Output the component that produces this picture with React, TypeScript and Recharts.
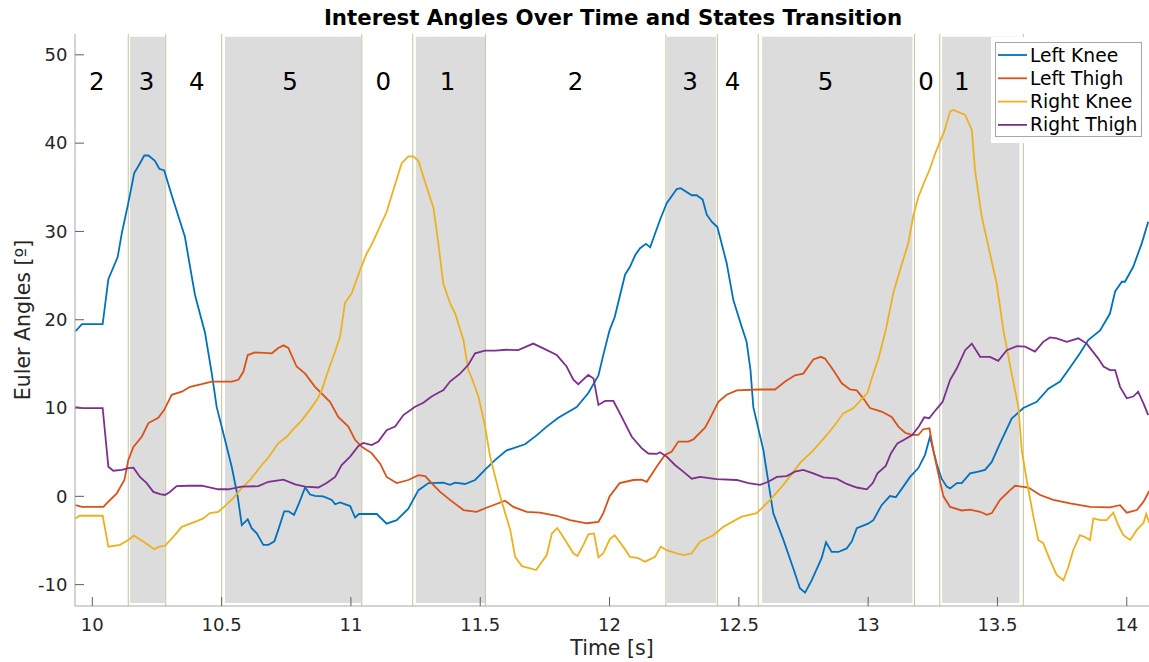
import React from 'react';
import { LineChart, Line, XAxis, YAxis, ReferenceArea, ReferenceLine, ReferenceDot } from 'recharts';

type Pt = [number, number];

// time [s], angle [deg]
const leftKnee: Pt[] = [
  [9.935, 18.7], [9.96, 19.5], [10.04, 19.5], [10.062, 24.6], [10.098, 27.1], [10.114, 29.8],
  [10.139, 33.2], [10.162, 36.6], [10.18, 37.5], [10.201, 38.6], [10.217, 38.6], [10.242, 38.0],
  [10.259, 37.1], [10.278, 36.9], [10.307, 34.1], [10.358, 29.4], [10.382, 25.3], [10.397, 22.8],
  [10.436, 18.5], [10.462, 13.9], [10.481, 10.1], [10.5, 7.9], [10.539, 3.35], [10.562, 0],
  [10.578, -3.25], [10.601, -2.6], [10.616, -3.6], [10.636, -4.2], [10.661, -5.5], [10.681, -5.5],
  [10.704, -5.1], [10.719, -3.8], [10.742, -1.7], [10.758, -1.7], [10.78, -2.1], [10.799, -0.8],
  [10.823, 1.0], [10.842, 0.2], [10.861, 0.05], [10.893, 0], [10.926, -0.4], [10.939, -0.9],
  [10.958, -0.7], [10.997, -1.1], [11.016, -2.4], [11.031, -2.0], [11.1, -2.0], [11.138, -3.1],
  [11.177, -2.7], [11.222, -1.4], [11.261, 0.7], [11.3, 1.5], [11.357, 1.55], [11.383, 1.3],
  [11.403, 1.55], [11.441, 1.4], [11.48, 1.85], [11.518, 3.0], [11.557, 4.1], [11.602, 5.2],
  [11.673, 5.9], [11.718, 6.9], [11.757, 7.9], [11.802, 8.9], [11.873, 10.1], [11.918, 11.7],
  [11.957, 13.7], [11.98, 16.5], [12.0, 18.8], [12.02, 20.3], [12.06, 25.1], [12.079, 26.0],
  [12.099, 27.3], [12.118, 28.1], [12.141, 28.6], [12.157, 28.2], [12.195, 31.3], [12.221, 33.2],
  [12.26, 34.8], [12.275, 34.9], [12.318, 34.1], [12.337, 34.1], [12.36, 33.6], [12.376, 31.9],
  [12.395, 31.1], [12.417, 30.5], [12.453, 26.4], [12.479, 22.2], [12.511, 19.2], [12.53, 17.5],
  [12.545, 14.3], [12.556, 10.1], [12.595, 5.2], [12.633, -1.9], [12.672, -4.9], [12.711, -8.2],
  [12.736, -10.4], [12.756, -10.9], [12.782, -9.5], [12.82, -7.0], [12.837, -5.2], [12.859, -6.3],
  [12.885, -6.3], [12.917, -5.9], [12.937, -5.1], [12.956, -3.6], [13.0, -3.1], [13.02, -2.7],
  [13.052, -1.0], [13.084, 0.03], [13.107, -0.1], [13.136, 1.1], [13.162, 2.2], [13.194, 3.2],
  [13.22, 4.7], [13.239, 6.75], [13.265, 3.7], [13.284, 2.0], [13.304, 1.1], [13.317, 0.9],
  [13.343, 1.5], [13.362, 1.5], [13.394, 2.6], [13.426, 2.8], [13.452, 3.0], [13.478, 3.9],
  [13.51, 6.0], [13.555, 8.8], [13.6, 10.0], [13.652, 10.7], [13.697, 12.2], [13.742, 13.0],
  [13.774, 14.3], [13.819, 16.2], [13.851, 17.7], [13.897, 18.8], [13.935, 20.7], [13.955, 23.2],
  [13.981, 24.3], [13.993, 24.3], [14.025, 26.0], [14.058, 28.65], [14.083, 31.1],
];

const leftThigh: Pt[] = [
  [9.935, -1.0], [9.96, -1.2], [10.043, -1.2], [10.062, -0.6], [10.094, 0.3], [10.124, 1.85],
  [10.139, 4.1], [10.159, 5.6], [10.191, 6.75], [10.217, 8.3], [10.255, 8.9], [10.278, 9.8],
  [10.307, 11.5], [10.346, 11.85], [10.378, 12.4], [10.423, 12.7], [10.462, 13.0], [10.539, 13.0],
  [10.565, 13.2], [10.584, 14.1], [10.601, 16.0], [10.629, 16.3], [10.694, 16.2], [10.719, 16.8],
  [10.739, 17.1], [10.758, 16.8], [10.79, 14.7], [10.823, 13.9], [10.861, 12.4], [10.919, 10.7],
  [10.951, 9.0], [10.99, 7.9], [11.016, 6.4], [11.042, 5.6], [11.08, 4.9], [11.113, 3.7],
  [11.138, 2.2], [11.177, 1.5], [11.222, 1.85], [11.261, 2.4], [11.287, 2.3], [11.325, 1.1],
  [11.345, 0.5], [11.383, -0.4], [11.435, -1.55], [11.486, -1.75], [11.519, -1.35], [11.596, -0.5],
  [11.628, -1.2], [11.68, -1.75], [11.731, -1.85], [11.796, -2.2], [11.847, -2.7], [11.912, -3.05],
  [11.957, -2.9], [11.976, -1.9], [12.0, 0], [12.039, 1.5], [12.092, 1.85], [12.124, 1.9],
  [12.144, 1.65], [12.182, 3.35], [12.215, 4.7], [12.24, 5.05], [12.266, 6.2], [12.305, 6.2],
  [12.324, 6.45], [12.37, 7.8], [12.395, 9.2], [12.421, 10.7], [12.453, 11.5], [12.492, 12.0],
  [12.575, 12.1], [12.64, 12.1], [12.679, 13.0], [12.717, 13.7], [12.749, 13.9], [12.788, 15.5],
  [12.817, 15.8], [12.833, 15.6], [12.865, 14.3], [12.898, 12.8], [12.93, 12.1], [12.956, 12.0],
  [12.981, 11.1], [13.007, 10.0], [13.052, 9.6], [13.091, 9.0], [13.117, 7.9], [13.143, 7.2],
  [13.168, 6.95], [13.194, 6.95], [13.213, 7.6], [13.237, 7.7], [13.252, 5.2], [13.271, 2.6],
  [13.291, 0], [13.317, -1.2], [13.362, -1.6], [13.394, -1.5], [13.433, -1.75], [13.459, -2.1],
  [13.478, -1.9], [13.51, -0.4], [13.549, 0.7], [13.568, 1.2], [13.62, 1.0], [13.665, 0.15],
  [13.716, -0.4], [13.781, -0.8], [13.858, -1.2], [13.935, -1.25], [13.974, -1.0], [14.0, -1.85],
  [14.039, -1.55], [14.065, -0.6], [14.087, 0.6],
];

const rightKnee: Pt[] = [
  [9.935, -2.5], [9.95, -2.2], [10.04, -2.2], [10.062, -5.7], [10.107, -5.5], [10.139, -4.95],
  [10.161, -4.45], [10.204, -5.25], [10.239, -6.0], [10.259, -5.7], [10.281, -5.6], [10.313, -4.6],
  [10.346, -3.45], [10.404, -2.8], [10.429, -2.5], [10.455, -1.9], [10.487, -1.75], [10.507, -1.25],
  [10.545, -0.2], [10.571, 0.7], [10.61, 1.85], [10.655, 3.55], [10.681, 4.4], [10.719, 6.0],
  [10.752, 6.75], [10.777, 7.6], [10.81, 8.6], [10.842, 9.85], [10.868, 10.9], [10.887, 12.0],
  [10.913, 14.3], [10.939, 16.4], [10.958, 18.1], [10.977, 21.9], [11.003, 23.0], [11.035, 25.6],
  [11.061, 27.5], [11.08, 28.5], [11.138, 32.2], [11.164, 34.7], [11.196, 37.7], [11.222, 38.5],
  [11.241, 38.5], [11.261, 38.0], [11.28, 36.2], [11.319, 32.7], [11.338, 28.65], [11.357, 24.1],
  [11.383, 21.9], [11.403, 20.7], [11.435, 17.7], [11.454, 14.3], [11.467, 13.4], [11.493, 11.3],
  [11.519, 7.9], [11.538, 4.5], [11.577, 0], [11.616, -3.8], [11.635, -6.85], [11.661, -7.9],
  [11.693, -8.15], [11.716, -8.35], [11.757, -6.65], [11.777, -4.2], [11.798, -3.6], [11.821, -4.6],
  [11.86, -6.45], [11.876, -6.75], [11.899, -5.5], [11.918, -4.3], [11.94, -4.2], [11.957, -6.9],
  [11.976, -6.45], [12.001, -4.85], [12.02, -4.4], [12.053, -5.7], [12.079, -6.85], [12.111, -7.0],
  [12.137, -7.4], [12.176, -6.85], [12.198, -5.7], [12.221, -6.1], [12.26, -6.45], [12.286, -6.65],
  [12.318, -6.45], [12.35, -5.15], [12.401, -4.4], [12.44, -3.45], [12.511, -2.3], [12.569, -1.9],
  [12.621, -0.4], [12.672, 1.3], [12.717, 3.0], [12.736, 3.75], [12.788, 5.2], [12.84, 6.95],
  [12.872, 8.1], [12.904, 9.4], [12.943, 10.0], [12.997, 11.7], [13.02, 13.9], [13.04, 15.6],
  [13.068, 18.8], [13.097, 23.0], [13.123, 25.6], [13.155, 28.65], [13.174, 31.7], [13.194, 33.9],
  [13.22, 35.8], [13.239, 37.1], [13.259, 38.8], [13.278, 40.2], [13.294, 41.3], [13.317, 43.6],
  [13.33, 43.75], [13.375, 43.2], [13.401, 41.5], [13.413, 37.0], [13.439, 31.7], [13.471, 27.5],
  [13.497, 24.1], [13.523, 18.8], [13.555, 13.9], [13.581, 10.1], [13.594, 5.2], [13.613, 1.85],
  [13.639, -2.3], [13.658, -4.95], [13.677, -5.3], [13.703, -7.2], [13.729, -8.9], [13.755, -9.5],
  [13.774, -8.0], [13.793, -6.1], [13.819, -4.4], [13.838, -4.6], [13.858, -4.95], [13.871, -2.5],
  [13.897, -2.7], [13.922, -2.7], [13.948, -1.85], [13.967, -3.25], [13.987, -4.4], [14.013, -4.95],
  [14.039, -3.8], [14.065, -3.0], [14.075, -2.0], [14.087, -3.0],
];

const rightThigh: Pt[] = [
  [9.935, 10.1], [9.96, 10.0], [10.04, 10.0], [10.062, 3.35], [10.081, 2.9], [10.114, 3.0],
  [10.139, 3.2], [10.159, 3.25], [10.184, 2.2], [10.21, 1.5], [10.236, 0.5], [10.262, 0.25],
  [10.281, 0.15], [10.3, 0.5], [10.326, 1.15], [10.371, 1.2], [10.423, 1.2], [10.487, 0.8],
  [10.526, 0.8], [10.578, 1.1], [10.642, 1.15], [10.681, 1.65], [10.739, 1.9], [10.784, 1.35],
  [10.823, 1.1], [10.874, 1.0], [10.906, 1.5], [10.939, 2.2], [10.964, 3.55], [10.997, 4.5],
  [11.029, 5.7], [11.048, 6.05], [11.08, 5.8], [11.106, 6.2], [11.138, 7.5], [11.171, 7.9],
  [11.203, 9.2], [11.248, 10.15], [11.28, 10.6], [11.312, 11.3], [11.345, 11.85], [11.357, 12.0],
  [11.383, 13.0], [11.422, 13.9], [11.454, 14.9], [11.48, 16.2], [11.518, 16.5], [11.557, 16.5],
  [11.602, 16.6], [11.647, 16.55], [11.705, 17.3], [11.744, 16.75], [11.796, 16.0], [11.834, 14.7],
  [11.86, 13.2], [11.879, 12.7], [11.918, 13.75], [11.938, 13.35], [11.957, 10.35], [11.983, 10.8],
  [12.015, 10.8], [12.047, 9.0], [12.086, 6.75], [12.124, 5.45], [12.15, 4.85], [12.182, 4.8],
  [12.195, 5.0], [12.221, 4.5], [12.253, 3.55], [12.285, 2.8], [12.318, 2.0], [12.35, 2.2],
  [12.414, 1.95], [12.492, 1.85], [12.537, 1.5], [12.582, 1.3], [12.614, 1.65], [12.647, 2.2],
  [12.685, 2.3], [12.717, 2.8], [12.749, 3.0], [12.788, 2.6], [12.827, 2.15], [12.878, 2.0],
  [12.917, 1.4], [12.956, 1.0], [12.995, 0.8], [13.018, 1.5], [13.036, 2.6], [13.068, 3.45],
  [13.088, 4.85], [13.113, 6.0], [13.139, 6.4], [13.17, 6.95], [13.196, 7.9], [13.217, 8.95],
  [13.236, 8.85], [13.262, 9.8], [13.288, 10.7], [13.317, 13.2], [13.343, 14.5], [13.375, 16.55],
  [13.401, 17.3], [13.433, 15.8], [13.471, 15.8], [13.503, 15.35], [13.536, 16.55], [13.575, 17.0],
  [13.607, 16.95], [13.645, 16.4], [13.677, 17.5], [13.703, 18.0], [13.729, 17.9], [13.768, 17.5],
  [13.813, 17.9], [13.845, 17.3], [13.89, 15.6], [13.91, 14.7], [13.935, 14.3], [13.955, 14.3],
  [13.974, 12.4], [14.0, 11.1], [14.025, 11.3], [14.044, 11.85], [14.065, 10.5], [14.083, 9.2],
];

// state machine: transition instants, shaded spans (states 1, 3, 5) and labels
const transitions = [10.139, 10.284, 10.5, 11.042, 11.239, 11.52, 12.218, 12.417, 12.575, 13.179, 13.277, 13.6];
const shaded: [number, number][] = [
  [10.146, 10.281], [10.513, 11.039], [11.251, 11.519], [12.222, 12.412], [12.59, 13.171], [13.286, 13.585],
];
const stateLabelT = [10.017, 10.21, 10.404, 10.765, 11.125, 11.374, 11.869, 12.311, 12.476, 12.835, 13.224, 13.362];
const stateLabels = ['2', '3', '4', '5', '0', '1', '2', '3', '4', '5', '0', '1'];
const stateLabelY = 46.95;

const xTicks = [10, 10.5, 11, 11.5, 12, 12.5, 13, 13.5, 14];
const yTicks = [-10, 0, 10, 20, 30, 40, 50];

const series = [
  { name: 'Left Knee', pts: leftKnee, color: '#0072BD' },
  { name: 'Left Thigh', pts: leftThigh, color: '#D95319' },
  { name: 'Right Knee', pts: rightKnee, color: '#EDB120' },
  { name: 'Right Thigh', pts: rightThigh, color: '#7E2F8E' },
];

const FONT = '"DejaVu Sans", sans-serif';
const W = 1149;
const H = 662;

const toRows = (pts: Pt[]) => pts.map(([t, v]) => ({ t, v }));

// ticks point inward, labels outside
const XTick = (props: any) => {
  const { x, y, payload } = props;
  return (
    <g>
      <line x1={x} x2={x} y1={y} y2={y - 9} stroke="#606060" strokeWidth={1} />
      <text x={x} y={y + 24.5} textAnchor="middle" fontSize={18} fill="#262626" fontFamily={FONT}>
        {payload.value}
      </text>
    </g>
  );
};

const YTick = (props: any) => {
  const { x, y, payload } = props;
  return (
    <g>
      <line x1={x} x2={x + 9} y1={y} y2={y} stroke="#606060" strokeWidth={1} />
      <text x={x - 7.5} y={y} dy="0.35em" textAnchor="end" fontSize={18} fill="#262626" fontFamily={FONT}>
        {payload.value}
      </text>
    </g>
  );
};

const App = () => {
  return (
    <div style={{ position: 'absolute', left: 0, top: 0, width: W, height: H, background: '#fff' }}>
      <LineChart width={W} height={H} margin={{ top: 34, right: 0, bottom: 0, left: 0 }}>
        <XAxis
          type="number"
          dataKey="t"
          domain={[9.933, 14.086]}
          allowDataOverflow
          ticks={xTicks}
          tick={<XTick />}
          tickSize={0}
          tickMargin={0}
          tickLine={false}
          height={56}
          axisLine={{ stroke: '#a8a8a8' }}
        />
        <YAxis
          type="number"
          domain={[-12.42, 52.36]}
          allowDataOverflow
          ticks={yTicks}
          tick={<YTick />}
          tickSize={0}
          tickMargin={0}
          tickLine={false}
          width={75}
          axisLine={{ stroke: '#a8a8a8' }}
        />
        {shaded.map(([a, b], i) => (
          <ReferenceArea
            key={`s${i}`}
            x1={a}
            x2={b}
            y1={-12.08}
            y2={52.05}
            fill="#dcdcdc"
            fillOpacity={1}
            stroke="none"
          />
        ))}
        {transitions.map((t, i) => (
          <ReferenceLine key={`t${i}`} x={t} stroke="#c4c49a" strokeWidth={1} />
        ))}
        {stateLabelT.map((t, i) => (
          <ReferenceDot
            key={`l${i}`}
            x={t}
            y={stateLabelY}
            r={0.1}
            fill="none"
            stroke="none"
            label={{ value: stateLabels[i], position: 'center', fontSize: 24.5, fill: '#000', fontFamily: FONT }}
          />
        ))}
        {series.map((s) => (
          <Line
            key={s.name}
            data={toRows(s.pts)}
            dataKey="v"
            name={s.name}
            type="linear"
            stroke={s.color}
            strokeWidth={1.8}
            dot={false}
            activeDot={false}
            isAnimationActive={false}
          />
        ))}
      </LineChart>
      <svg width={W} height={H} style={{ position: 'absolute', left: 0, top: 0, pointerEvents: 'none' }}>
        <text x={613} y={25} textAnchor="middle" fontSize={21.3} fontWeight="bold" fill="#000" fontFamily={FONT}>
          Interest Angles Over Time and States Transition
        </text>
        <text x={612} y={655} textAnchor="middle" fontSize={20.5} fill="#262626" fontFamily={FONT}>
          Time [s]
        </text>
        <text transform="translate(30,320) rotate(-90)" textAnchor="middle" fontSize={20.5} fill="#262626" fontFamily={FONT}>
          Euler Angles [º]
        </text>
        <g>
          <rect x={991} y={37} width={150} height={106} fill="#fff" />
          <rect x={995.5} y={42.5} width={146} height={94} fill="#fff" stroke="#a6a6a6" strokeWidth={1} />
          {series.map((s, i) => (
            <g key={s.name}>
              <line x1={998} x2={1027} y1={55 + i * 23.3} y2={55 + i * 23.3} stroke={s.color} strokeWidth={1.8} />
              <text x={1030} y={55 + i * 23.3} dy="0.35em" fontSize={18.7} fill="#000" fontFamily={FONT}>
                {s.name}
              </text>
            </g>
          ))}
        </g>
      </svg>
    </div>
  );
};

export default App;
